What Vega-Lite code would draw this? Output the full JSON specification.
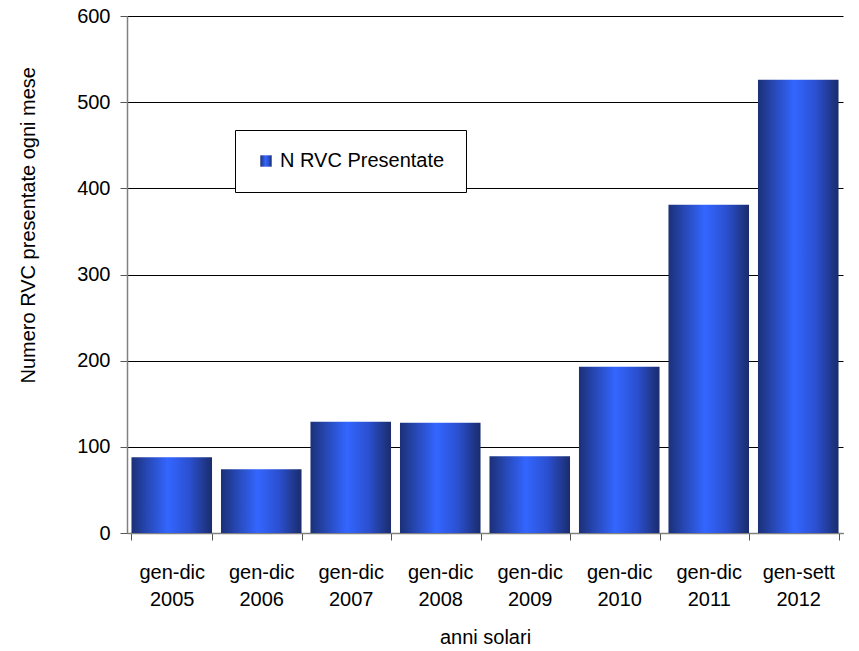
{
  "$schema": "https://vega.github.io/schema/vega-lite/v6.json",
  "width": 716,
  "height": 517,
  "autosize": {"type": "none"},
  "padding": {"left": 127, "top": 16, "right": 16, "bottom": 118},
  "background": "white",
  "title": {
    "text": "(2005 - 2012)",
    "anchor": "start",
    "frame": "group",
    "dx": 240,
    "dy": 18,
    "offset": 4,
    "fontSize": 28,
    "fontWeight": "bold",
    "font": "Liberation Sans",
    "color": "black",
    "baseline": "alphabetic"
  },
  "data": {
    "values": [
      {"periodo": "gen-dic 2005", "valore": 88, "serie": "N RVC Presentate"},
      {"periodo": "gen-dic 2006", "valore": 74, "serie": "N RVC Presentate"},
      {"periodo": "gen-dic 2007", "valore": 129, "serie": "N RVC Presentate"},
      {"periodo": "gen-dic 2008", "valore": 128, "serie": "N RVC Presentate"},
      {"periodo": "gen-dic 2009", "valore": 89, "serie": "N RVC Presentate"},
      {"periodo": "gen-dic 2010", "valore": 193, "serie": "N RVC Presentate"},
      {"periodo": "gen-dic 2011", "valore": 381, "serie": "N RVC Presentate"},
      {"periodo": "gen-sett 2012", "valore": 526, "serie": "N RVC Presentate"}
    ]
  },
  "mark": {
    "type": "bar",
    "color": {
      "gradient": "linear",
      "x1": 0, "x2": 1, "y1": 0, "y2": 0,
      "stops": [
        {"offset": 0, "color": "#1b3077"},
        {"offset": 0.18, "color": "#2646b0"},
        {"offset": 0.45, "color": "#3366ff"},
        {"offset": 0.72, "color": "#2b50d0"},
        {"offset": 1, "color": "#1a2c6c"}
      ]
    }
  },
  "encoding": {
    "x": {
      "field": "periodo",
      "type": "nominal",
      "sort": null,
      "scale": {"paddingInner": 0.1, "paddingOuter": 0.05},
      "axis": {
        "title": "anni solari",
        "titleFontSize": 20,
        "titleFontWeight": "normal",
        "titlePadding": 18,
        "labelAngle": 0,
        "labelExpr": "isValid(datum.value) ? split(datum.value, ' ') : ''",
        "labelFontSize": 20,
        "labelLineHeight": 27,
        "labelPadding": 22,
        "tickBand": "extent",
        "tickSize": 7,
        "grid": false
      }
    },
    "y": {
      "field": "valore",
      "type": "quantitative",
      "scale": {"domain": [0, 600], "nice": false},
      "axis": {
        "title": "Numero RVC presentate ogni mese",
        "titleFontSize": 20,
        "titleFontWeight": "normal",
        "titleAngle": 270,
        "titleAlign": "left",
        "titleBaseline": "middle",
        "titleX": -99,
        "titleY": 367,
        "values": [0, 100, 200, 300, 400, 500, 600],
        "labelFontSize": 20,
        "labelPadding": 10,
        "tickSize": 7,
        "grid": true
      }
    },
    "opacity": {
      "field": "serie",
      "type": "nominal",
      "scale": {"range": [1]},
      "legend": {
        "title": null,
        "orient": "none",
        "legendX": 108,
        "legendY": 114,
        "padding": 21,
        "strokeColor": "black",
        "fillColor": "white",
        "symbolType": "square",
        "symbolSize": 130,
        "symbolStrokeWidth": 0,
        "symbolFillColor": "#2b50d0",
        "labelFontSize": 20,
        "labelLimit": 400,
        "labelOffset": 4,
        "labelColor": "black"
      }
    }
  },
  "config": {
    "font": "Liberation Sans",
    "view": {"stroke": null},
    "axis": {
      "labelColor": "black",
      "titleColor": "black",
      "labelFont": "Liberation Sans",
      "titleFont": "Liberation Sans",
      "domainColor": "#808080",
      "domainWidth": 1.5,
      "tickColor": "#555555",
      "tickWidth": 1,
      "gridColor": "#000000",
      "gridWidth": 1,
      "gridOpacity": 1
    },
    "legend": {"labelFont": "Liberation Sans"}
  }
}
